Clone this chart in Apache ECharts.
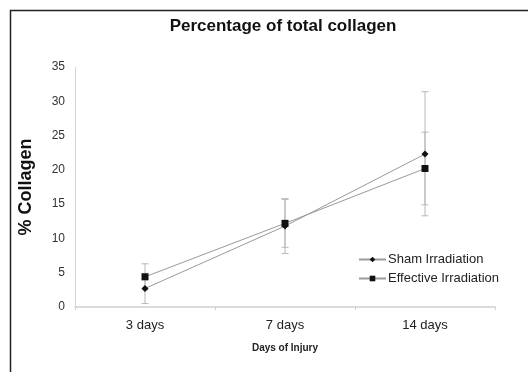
<!DOCTYPE html>
<html>
<head>
<meta charset="utf-8">
<script src="https://cdn.jsdelivr.net/npm/echarts@6/dist/echarts.min.js"></script>
<style>html,body{margin:0;padding:0;background:#fff;}#c{width:528px;height:372px;}</style>
</head>
<body>
<div id="c"></div>
<script>
var categories = ['3 days', '7 days', '14 days'];
var yTicks = [0, 5, 10, 15, 20, 25, 30, 35];
var sham = [2.7, 11.8, 22.3];
var effective = [4.4, 12.2, 20.2];
var shamErrLow = [0.5, 7.8, 13.3];
var shamErrHigh = [4.9, 15.8, 31.4];
var effErrLow = [2.5, 8.7, 14.9];
var effErrHigh = [6.3, 15.7, 25.5];

var chart = echarts.init(document.getElementById('c'), null, {renderer: 'canvas'});

function errData(lo, hi) {
  return categories.map(function (c, i) { return [i, lo[i], hi[i]]; });
}
function errRender(params, api) {
  var x = api.value(0);
  var lo = api.coord([x, api.value(1)]);
  var hi = api.coord([x, api.value(2)]);
  var hw = 3.5;
  var st = {stroke: '#b8b8b8', lineWidth: 1};
  return {
    type: 'group',
    children: [
      {type: 'line', shape: {x1: lo[0], y1: lo[1], x2: hi[0], y2: hi[1]}, style: st},
      {type: 'line', shape: {x1: lo[0] - hw, y1: lo[1], x2: lo[0] + hw, y2: lo[1]}, style: st},
      {type: 'line', shape: {x1: hi[0] - hw, y1: hi[1], x2: hi[0] + hw, y2: hi[1]}, style: st}
    ]
  };
}

chart.setOption({
  backgroundColor: '#fff',
  animation: false,
  title: {
    text: 'Percentage of total collagen',
    left: 278, top: 13, textAlign: 'center',
    textStyle: {fontFamily: 'Liberation Sans, Arial', fontWeight: 'bold', fontSize: 17, color: '#111'}
  },
  graphic: [{
    type: 'rect', left: 8, top: 8, silent: true,
    shape: {x: 0, y: 0, width: 600, height: 600},
    style: {fill: 'none', stroke: '#222', lineWidth: 1.5}
  }],
  legend: {
    orient: 'vertical', left: 358, top: 253, padding: 0,
    itemWidth: 27, itemHeight: 7, itemGap: 6,
    data: ['Sham Irradiation', 'Effective Irradiation'],
    textStyle: {fontFamily: 'Liberation Sans, Arial', fontSize: 13, color: '#222', padding: [0, 0, 0, -3]}
  },
  grid: {left: 75, right: 33, top: 67, bottom: 65, containLabel: false},
  xAxis: {
    type: 'category', data: categories, boundaryGap: true,
    name: 'Days of Injury', nameLocation: 'middle', nameGap: 36,
    nameTextStyle: {fontFamily: 'Liberation Sans, Arial', fontWeight: 'bold', fontSize: 10, color: '#222'},
    axisLine: {lineStyle: {color: '#cfcfcf', width: 1.5}},
    axisTick: {show: true, length: 3, lineStyle: {color: '#cfcfcf'}},
    axisLabel: {fontFamily: 'Liberation Sans, Arial', fontSize: 13, color: '#222', margin: 12}
  },
  yAxis: {
    type: 'value', min: 0, max: 35, interval: 5,
    name: '% Collagen', nameLocation: 'middle', nameGap: 40, nameRotate: 90,
    nameTextStyle: {fontFamily: 'Liberation Sans, Arial', fontWeight: 'bold', fontSize: 18, color: '#111'},
    axisLine: {show: true, lineStyle: {color: '#d6d6d6', width: 1}},
    axisTick: {show: false},
    splitLine: {show: false},
    axisLabel: {fontFamily: 'Liberation Sans, Arial', fontSize: 12, color: '#333', margin: 10,
      formatter: function (v) { return yTicks.indexOf(v) >= 0 ? String(v) : ''; }}
  },
  series: [
    {type: 'custom', name: 'errS', renderItem: errRender, data: errData(shamErrLow, shamErrHigh), z: 1, silent: true},
    {type: 'custom', name: 'errE', renderItem: errRender, data: errData(effErrLow, effErrHigh), z: 1, silent: true},
    {
      type: 'line', name: 'Sham Irradiation', data: sham, z: 3,
      symbol: 'diamond', symbolSize: 7, showAllSymbol: true,
      itemStyle: {color: '#111'},
      lineStyle: {color: '#9a9a9a', width: 1}
    },
    {
      type: 'line', name: 'Effective Irradiation', data: effective, z: 3,
      symbol: 'rect', symbolSize: 7, showAllSymbol: true,
      itemStyle: {color: '#111'},
      lineStyle: {color: '#9a9a9a', width: 1}
    }
  ]
});
</script>
</body>
</html>
